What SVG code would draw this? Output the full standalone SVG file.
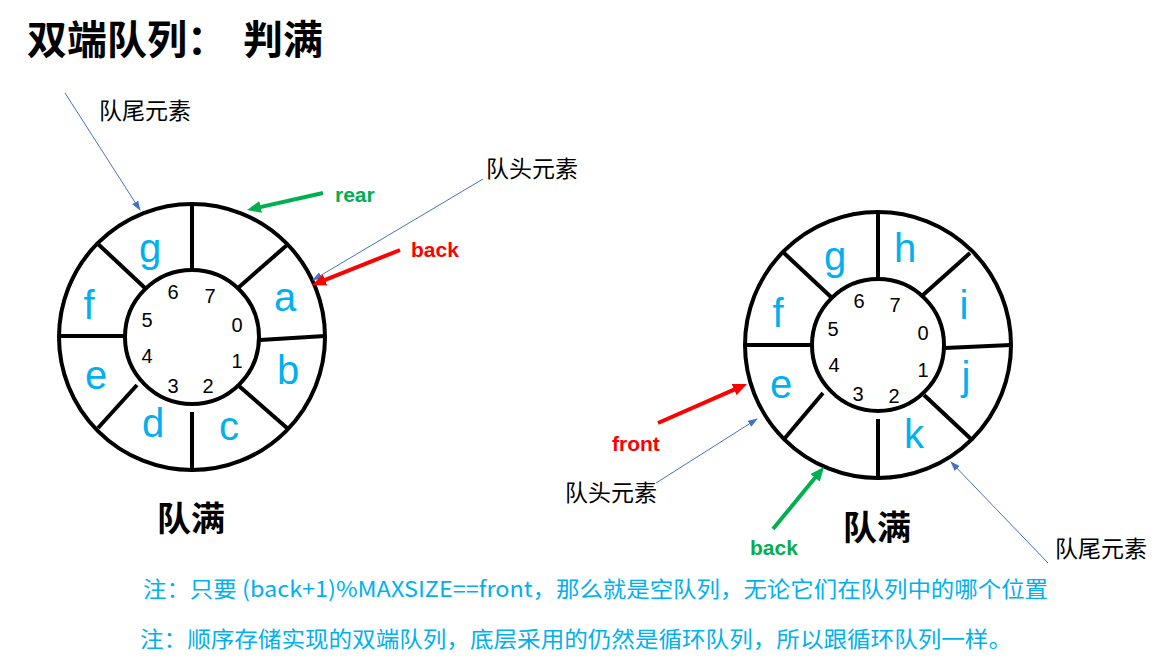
<svg xmlns="http://www.w3.org/2000/svg" width="1164" height="667" viewBox="0 0 1164 667">
<style>
.ring{fill:none;stroke:#000;stroke-width:4}
.div{stroke:#000;stroke-width:4;stroke-linecap:butt}
.let{font-family:"Liberation Sans","Noto Sans",sans-serif;font-size:40px;fill:#00B0F0;text-anchor:middle}
.num{font-family:"Liberation Sans","Noto Sans",sans-serif;font-size:20px;fill:#000;text-anchor:middle}
.cjk{font-family:"Noto Sans CJK SC",sans-serif;fill:#000}
.ptr{font-family:"Liberation Sans","Noto Sans CJK SC",sans-serif;font-size:21px;font-weight:bold}
.note{font-family:"Noto Sans CJK SC",sans-serif;font-size:22px;fill:#00B0F0}
.thin{stroke:#4472C4;stroke-width:1;fill:none}
.red{stroke:#FF0000;stroke-width:4;fill:none}
.green{stroke:#00B050;stroke-width:4;fill:none}
</style>
<defs>
<marker id="ab" markerUnits="userSpaceOnUse" viewBox="0 0 10 7" markerWidth="10" markerHeight="7" refX="9" refY="3.5" orient="auto"><path d="M0,0 L10,3.5 L0,7 z" fill="#4472C4"/></marker>
<marker id="ar" markerUnits="userSpaceOnUse" viewBox="0 0 14 12" markerWidth="14" markerHeight="12" refX="8" refY="6" orient="auto"><path d="M0,0 L14,6 L0,12 z" fill="#FF0000"/></marker>
<marker id="ag" markerUnits="userSpaceOnUse" viewBox="0 0 14 12" markerWidth="14" markerHeight="12" refX="8" refY="6" orient="auto"><path d="M0,0 L14,6 L0,12 z" fill="#00B050"/></marker>
</defs>
<rect width="1164" height="667" fill="#fff"/>

<g id="title">
<text class="cjk" x="27" y="54" font-size="40" font-weight="bold">双端队列：</text>
<text class="cjk" x="243" y="54" font-size="40" font-weight="bold">判满</text>
</g>

<g id="left-queue">
<circle class="ring" cx="192" cy="337" r="133"/>
<circle class="ring" cx="192" cy="337" r="67"/>
<line class="div" x1="192" y1="204" x2="192" y2="270"/>
<line class="div" x1="287" y1="245" x2="238" y2="288"/>
<line class="div" x1="260" y1="340" x2="325" y2="336"/>
<line class="div" x1="239" y1="386" x2="287" y2="428"/>
<line class="div" x1="192" y1="412" x2="192" y2="470"/>
<line class="div" x1="137" y1="385" x2="98" y2="428"/>
<line class="div" x1="59" y1="336" x2="125" y2="336"/>
<line class="div" x1="98" y1="244" x2="145" y2="288"/>
<text class="let" x="150" y="262">g</text>
<text class="let" x="285" y="311">a</text>
<text class="let" x="89" y="319">f</text>
<text class="let" x="288" y="384">b</text>
<text class="let" x="96" y="389">e</text>
<text class="let" x="153" y="437">d</text>
<text class="let" x="229" y="440">c</text>
<text class="num" x="173" y="299">6</text>
<text class="num" x="210" y="303">7</text>
<text class="num" x="147" y="327">5</text>
<text class="num" x="237" y="332">0</text>
<text class="num" x="147" y="363">4</text>
<text class="num" x="237" y="368">1</text>
<text class="num" x="173" y="393">3</text>
<text class="num" x="208" y="393">2</text>
<text class="cjk" x="157" y="531" font-size="34" font-weight="bold">队满</text>
</g>

<g id="right-queue">
<circle class="ring" cx="878" cy="345" r="133"/>
<circle class="ring" cx="878" cy="345" r="66"/>
<line class="div" x1="878" y1="212" x2="878" y2="279"/>
<line class="div" x1="970" y1="253" x2="923" y2="295"/>
<line class="div" x1="945" y1="348" x2="1011" y2="345"/>
<line class="div" x1="924" y1="395" x2="971" y2="439"/>
<line class="div" x1="878" y1="419" x2="878" y2="478"/>
<line class="div" x1="823" y1="393" x2="785" y2="438"/>
<line class="div" x1="745" y1="345" x2="812" y2="345"/>
<line class="div" x1="784" y1="253" x2="831" y2="297"/>
<text class="let" x="835" y="270">g</text>
<text class="let" x="905" y="262">h</text>
<text class="let" x="778" y="327">f</text>
<text class="let" x="964" y="319">i</text>
<text class="let" x="781" y="398">e</text>
<text class="let" x="966" y="390">j</text>
<text class="let" x="914" y="448">k</text>
<text class="num" x="859" y="308">6</text>
<text class="num" x="895" y="312">7</text>
<text class="num" x="833" y="336">5</text>
<text class="num" x="923" y="340">0</text>
<text class="num" x="834" y="372">4</text>
<text class="num" x="923" y="377">1</text>
<text class="num" x="858" y="401">3</text>
<text class="num" x="894" y="403">2</text>
<text class="cjk" x="843" y="540" font-size="34" font-weight="bold">队满</text>
</g>

<g id="labels">
<text class="cjk" x="99" y="119" font-size="23">队尾元素</text>
<text class="cjk" x="486" y="177" font-size="23">队头元素</text>
<text class="ptr" x="335" y="202" fill="#00B050">rear</text>
<text class="ptr" x="411" y="257" fill="#FF0000">back</text>
<text class="ptr" x="612" y="451" fill="#FF0000">front</text>
<text class="cjk" x="565" y="501" font-size="23">队头元素</text>
<text class="ptr" x="750" y="555" fill="#00B050">back</text>
<text class="cjk" x="1055" y="557" font-size="23">队尾元素</text>
</g>

<g id="connectors">
<line class="thin" x1="65" y1="93" x2="140" y2="210" marker-end="url(#ab)"/>
<line class="thin" x1="483" y1="179" x2="313" y2="280" marker-end="url(#ab)"/>
<line class="thin" x1="656" y1="483" x2="757" y2="419" marker-end="url(#ab)"/>
<line class="thin" x1="1048" y1="563" x2="951" y2="462" marker-end="url(#ab)"/>
<line class="green" x1="323" y1="193" x2="252.9" y2="208.7" marker-end="url(#ag)"/>
<line class="red" x1="400" y1="250" x2="317.6" y2="282.8" marker-end="url(#ar)"/>
<line class="red" x1="658" y1="423" x2="741.5" y2="386.4" marker-end="url(#ar)"/>
<line class="green" x1="773" y1="529" x2="820.2" y2="471.6" marker-end="url(#ag)"/>
</g>

<g id="notes">
<text class="note" x="143" y="597" textLength="905" lengthAdjust="spacingAndGlyphs">注：只要 (back+1)%MAXSIZE==front，那么就是空队列，无论它们在队列中的哪个位置</text>
<text class="note" x="140" y="647" textLength="872" lengthAdjust="spacingAndGlyphs">注：顺序存储实现的双端队列，底层采用的仍然是循环队列，所以跟循环队列一样。</text>
</g>
</svg>
